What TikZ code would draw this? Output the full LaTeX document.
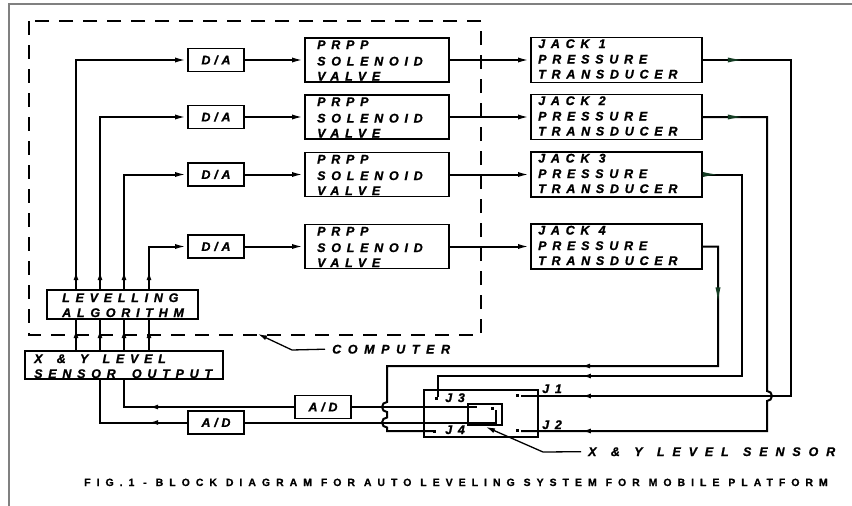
\documentclass[tikz,border=0pt]{standalone}
\usepackage{fontspec}
\setmainfont{Liberation Sans}
\newfontfamily\lblfont[LetterSpace=46,FakeBold=1.2]{Liberation Sans Bold Italic}
\newfontfamily\compfont[LetterSpace=53,FakeBold=1.2]{Liberation Sans Bold Italic}
\newfontfamily\senfont[LetterSpace=63,FakeBold=1.2]{Liberation Sans Bold Italic}
\newfontfamily\dafont[LetterSpace=30,FakeBold=1.2]{Liberation Sans Bold Italic}
\newfontfamily\capfont[LetterSpace=57,FakeBold=0.8]{Liberation Sans Bold}
\usetikzlibrary{arrows.meta,decorations.markings,calc}
\definecolor{dgreen}{RGB}{20,60,35}
\tikzset{
  conn/.style={line width=2pt},
  lead/.style={line width=1.3pt},
  box/.style={draw, line width=1.8pt, rectangle, inner sep=0pt},
  lab/.style={font=\lblfont\fontsize{12.5}{14}\selectfont, anchor=base west, inner sep=0pt},
  dalab/.style={font=\dafont\fontsize{12.5}{14}\selectfont},
  caplab/.style={font=\capfont\fontsize{10.5}{12}\selectfont, anchor=base, inner sep=0pt},
  dotn/.style={fill, rectangle, minimum size=3pt, inner sep=0pt},
  tipA/.tip={Latex[length=12pt,width=5pt]},
  tipS/.tip={Latex[length=9pt,width=5pt]},
  tipG/.tip={Latex[length=18pt,width=5pt,color=dgreen]},
  arrowat/.style={postaction={decorate,decoration={markings,mark=at position #1 with {\arrow{tipS}}}}},
  garrow/.style={postaction={decorate,decoration={markings,mark=at position #1 with {\arrow{tipG}}}}},
  dashbox/.style={line width=2pt, dash pattern=on 14pt off 10pt},
}
\begin{document}
\begin{tikzpicture}[x=1pt,y=-1pt]
\useasboundingbox (0,0) rectangle (852,506);
% outer frame
\draw[gray, line width=1.5pt] (9,506) -- (9,4) -- (852,4);
% computer boundary
\draw[dashbox] (29,21) rectangle (481,335);

% rows
\foreach \r/\n in {60/1,117/2,174.5/3,246.5/4} {
  \node[box, dalab, minimum width=56pt, minimum height=23pt] (da\n) at (216,\r) {D/A};
  \node[box, minimum width=144pt, minimum height=44pt] (v\n) at (377,\r) {};
  \node[lab] (v\n a) at (317,{\r-11}) {PRPP};
  \node[lab] (v\n b) at (317,{\r+5.5}) {SOLENOID};
  \node[lab] (v\n c) at (317,{\r+20.5}) {VALVE};
  \node[box, minimum width=171pt, minimum height=45pt] (jk\n) at (616.5,\r) {};
  \node[lab] (jk\n a) at (538,{\r-12}) {JACK \n};
  \node[lab] (jk\n b) at (538,{\r+3.5}) {PRESSURE};
  \node[lab] (jk\n c) at (538,{\r+18.5}) {TRANSDUCER};
  \draw[conn,-{tipA}] (da\n) -- (v\n);
  \draw[conn,-{tipA}] (v\n) -- (jk\n);
}

% levelling algorithm and sensor output
\node[box, minimum width=151pt, minimum height=29pt] (lev) at (122.5,304.5) {};
\node[lab] (leva) at (62,302) {LEVELLING};
\node[lab] (levb) at (62,317) {ALGORITHM};
\node[box, minimum width=198pt, minimum height=28pt] (so) at (124,365) {};
\node[lab] (soa) at (34,363) {X\hspace{5pt} \&\hspace{5pt} Y\hspace{5pt} LEVEL};
\node[lab] (sob) at (34,378) {SENSOR\hspace{7pt} OUTPUT};

\foreach \x/\n in {76/1,100/2,124/3,149/4} {
  \coordinate (col\n) at (\x,0);
  \draw[conn, arrowat=18pt, -{tipA}] (lev.north -| col\n) |- (da\n.west);
  \draw[conn, arrowat=21pt] (so.north -| col\n) -- (lev.south -| col\n);
}

% A/D converters
\node[box, dalab, minimum width=56pt, minimum height=23pt] (adu) at (323,407) {A/D};
\node[box, dalab, minimum width=56pt, minimum height=23pt] (adl) at (216,422.5) {A/D};
\draw[conn, arrowat=145pt] (adu.west) -| (so.south -| col3);
\draw[conn, arrowat=38pt] (adl.west) -| (so.south -| col2);

% level sensor
\node[box, minimum width=114pt, minimum height=47pt] (sens) at (481,413.5) {};
\node[box, minimum width=34pt, minimum height=21pt] (inner) at (485,414.5) {};
\coordinate (su) at (477,407);
\coordinate (sl) at (496,422.5);
\coordinate (slt) at (496,409.5);
\node[dotn] (di) at (492.5,408) {};
\draw[conn] (adu.east) -- (su);
\draw[conn] (adl.east) -- (sl) -- (slt);

\node[dotn] (d1) at (517,395) {};
\node[dotn] (d2) at (517,430) {};
\node[dotn] (d3) at (436.5,398.5) {};
\node[dotn] (d4) at (434.5,431) {};
\node[lab] (lj1) at (542,393) {J1};
\node[lab] (lj2) at (542,429) {J2};
\node[lab] (lj3) at (445,402) {J3};
\node[lab] (lj4) at (445,434) {J4};

% transducer returns
\draw[conn, garrow=74pt, arrowat=271.5pt] (jk4.east) -- (718,246.5) -- (718,366) -- (387,366)
  -- (387,402) arc[start angle=-90,end angle=-270,radius=5]
  -- (387,417.5) arc[start angle=-90,end angle=-270,radius=5]
  -- (387,431) -- (d4.west);
\draw[conn, garrow=18pt, arrowat=400.7pt] (jk3.east) -- (742,174.5) -- (742,376) -- (438,376) -- (438,397);
\draw[conn, garrow=43pt, arrowat=569pt] (jk2.east) -- (767,117) -- (767,391)
  arc[start angle=-90,end angle=90,radius=5] -- (767,431) -- (521,431);
\draw[conn, garrow=43pt, arrowat=633.2pt] (jk1.east) -- (791,60) -- (791,396) -- (521,396);

% labels with leaders
\node[lab, font=\compfont\fontsize{12.5}{14}\selectfont] (comp) at (332,353.5) {COMPUTER};
\coordinate (cA) at (292,350);
\coordinate (cB) at (258,334);
\draw[lead, -{tipS}] ([xshift=-7pt]comp.west) -- (cA) -- (cB);

\node[lab, font=\senfont\fontsize{12.5}{14}\selectfont] (slab) at (588,456) {X\hspace{3pt} \&\hspace{3pt} Y\hspace{3pt} LEVEL\hspace{3pt} SENSOR};
\coordinate (sA) at (543,452);
\coordinate (sB) at (486,427);
\draw[lead, -{tipS}] ([xshift=-7pt]slab.west) -- (sA) -- (sB);

\node[caplab] (cap) at (456,486) {FIG.1 - BLOCK DIAGRAM FOR AUTO LEVELING SYSTEM FOR MOBILE PLATFORM};
\end{tikzpicture}
\end{document}
